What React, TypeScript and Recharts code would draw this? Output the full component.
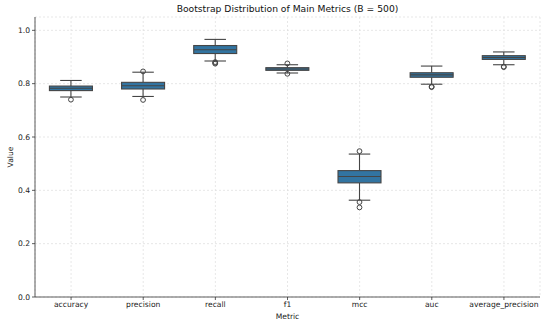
import React from "react";
import { ComposedChart, Bar, XAxis, YAxis, CartesianGrid } from "recharts";

// bootstrap box stats per metric
const metrics = ["accuracy", "precision", "recall", "f1", "mcc", "auc", "average_precision"];
const whiskerLow = [0.75, 0.752, 0.885, 0.84, 0.363, 0.798, 0.871];
const q1 = [0.774, 0.78, 0.913, 0.85, 0.428, 0.824, 0.891];
const medians = [0.783, 0.792, 0.927, 0.855, 0.452, 0.833, 0.898];
const q3 = [0.791, 0.805, 0.943, 0.86, 0.474, 0.841, 0.905];
const whiskerHigh = [0.812, 0.843, 0.966, 0.871, 0.536, 0.866, 0.919];
const outliers: number[][] = [
    [0.74],
    [0.739, 0.846],
    [0.878, 0.875, 0.881],
    [0.837, 0.876],
    [0.356, 0.336, 0.547],
    [0.787, 0.789],
    [0.862, 0.864],
];
const yTicks = [0, 0.2, 0.4, 0.6, 0.8, 1.0];

const BOX_FILL = "#3274a1";
const LINE = "#454545";
const FONT = "'DejaVu Sans', sans-serif";

type Row = {
    metric: string;
    lo: number;
    q1: number;
    med: number;
    q3: number;
    hi: number;
    out: number[];
};

const rows: Row[] = metrics.map((m, i) => ({
    metric: m,
    lo: whiskerLow[i],
    q1: q1[i],
    med: medians[i],
    q3: q3[i],
    hi: whiskerHigh[i],
    out: outliers[i],
}));

// Bar gets [lo, hi] as a range; map the other stats linearly inside it
const BoxShape = (props: any) => {
    const { x, y, width, height, payload } = props;
    const d = payload as Row;
    const top = Math.min(y, y + height);
    const h = Math.abs(height);
    const per = h / (d.hi - d.lo);
    const toY = (v: number) => top + (d.hi - v) * per;
    const cx = x + width / 2;
    const capHalf = width / 4;

    return (
        <g>
            <line x1={cx} x2={cx} y1={toY(d.hi)} y2={toY(d.q3)} stroke={LINE} strokeWidth={1.1} />
            <line x1={cx} x2={cx} y1={toY(d.q1)} y2={toY(d.lo)} stroke={LINE} strokeWidth={1.1} />
            <line x1={cx - capHalf} x2={cx + capHalf} y1={toY(d.hi)} y2={toY(d.hi)} stroke={LINE} strokeWidth={1.1} />
            <line x1={cx - capHalf} x2={cx + capHalf} y1={toY(d.lo)} y2={toY(d.lo)} stroke={LINE} strokeWidth={1.1} />
            <rect
                x={x}
                y={toY(d.q3)}
                width={width}
                height={toY(d.q1) - toY(d.q3)}
                fill={BOX_FILL}
                stroke={LINE}
                strokeWidth={1.1}
            />
            <line x1={x} x2={x + width} y1={toY(d.med)} y2={toY(d.med)} stroke={LINE} strokeWidth={1.1} />
            {d.out.map((v, k) => (
                <circle key={k} cx={cx} cy={toY(v)} r={2.4} fill="none" stroke={LINE} strokeWidth={1} />
            ))}
        </g>
    );
};

const tickStyle = { fontSize: 7.6, fill: "#222", fontFamily: FONT };

export default function App() {
    return (
        <div style={{ position: "relative", width: 550, height: 326, fontFamily: FONT, background: "#fff" }}>
            <style>{`body{margin:0}`}</style>
            <div
                style={{
                    position: "absolute",
                    top: 3,
                    left: 35,
                    width: 505,
                    textAlign: "center",
                    fontSize: 9.2,
                    color: "#111",
                }}
            >
                Bootstrap Distribution of Main Metrics (B = 500)
            </div>
            <div
                style={{
                    position: "absolute",
                    top: 312,
                    left: 35,
                    width: 505,
                    textAlign: "center",
                    fontSize: 7.6,
                    color: "#222",
                }}
            >
                Metric
            </div>
            <div
                style={{
                    position: "absolute",
                    left: 10,
                    top: 157,
                    fontSize: 7.6,
                    color: "#222",
                    transform: "translate(-50%, -50%) rotate(-90deg)",
                }}
            >
                Value
            </div>
            <ComposedChart
                width={550}
                height={326}
                data={rows}
                margin={{ top: 17, right: 10, bottom: 0, left: 0 }}
                barCategoryGap="20%"
            >
                <CartesianGrid stroke="#dcdcdc" strokeDasharray="2 2" strokeWidth={0.7} />
                <XAxis
                    dataKey="metric"
                    height={29}
                    tick={tickStyle}
                    tickSize={3}
                    tickMargin={2}
                    axisLine={{ stroke: "#333", strokeWidth: 0.8 }}
                    tickLine={{ stroke: "#333", strokeWidth: 0.8 }}
                    interval={0}
                />
                <XAxis xAxisId="top" orientation="top" dataKey="metric" height={0} tick={false} tickLine={false} axisLine={{ stroke: "#333", strokeWidth: 0.8 }} />
                <YAxis
                    width={35}
                    domain={[0, 1.05]}
                    ticks={yTicks}
                    tickFormatter={(v: number) => v.toFixed(1)}
                    tick={tickStyle}
                    tickSize={3}
                    tickMargin={2}
                    axisLine={{ stroke: "#333", strokeWidth: 0.8 }}
                    tickLine={{ stroke: "#333", strokeWidth: 0.8 }}
                />
                <YAxis yAxisId="right" orientation="right" width={0} tick={false} tickLine={false} axisLine={{ stroke: "#333", strokeWidth: 0.8 }} />
                <Bar dataKey={(d: Row) => [d.lo, d.hi]} shape={<BoxShape />} isAnimationActive={false} />
            </ComposedChart>
        </div>
    );
}
